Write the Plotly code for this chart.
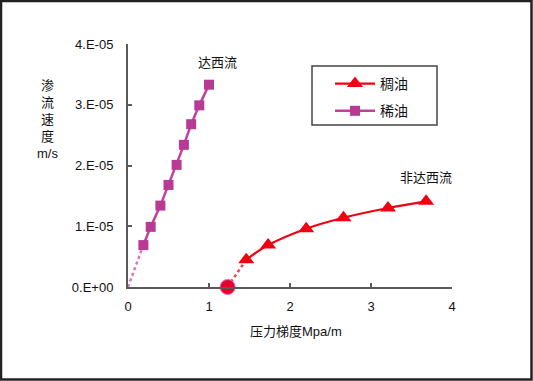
import plotly.graph_objects as go

# Data (x: MPa/m, y: m/s)
thin_x = [0.19, 0.28, 0.40, 0.50, 0.60, 0.69, 0.78, 0.88, 1.00]
thin_y = [0.69e-5, 0.99e-5, 1.34e-5, 1.68e-5, 2.01e-5, 2.34e-5, 2.68e-5, 2.99e-5, 3.33e-5]
heavy_x = [1.46, 1.73, 2.20, 2.66, 3.21, 3.68]
heavy_y = [0.45e-5, 0.69e-5, 0.96e-5, 1.14e-5, 1.30e-5, 1.41e-5]
thin_origin_x = [0.0]
thin_origin_y = [0.0]
threshold_x = [1.23]
threshold_y = [0.0]
x_ticks = [0, 1, 2, 3, 4]
y_ticks = [0, 1e-5, 2e-5, 3e-5, 4e-5]
y_tick_labels = ["0.E+00", "1.E-05", "2.E-05", "3.E-05", "4.E-05"]

FONT = "Liberation Sans, Arial, Noto Sans CJK SC, sans-serif"
PURPLE = "#C0409C"
RED = "#F00010"
AX = "#5a5a5a"

W, H = 533, 381
L, R, T, B = 128, 81, 44, 94
pw, ph = W - L - R, H - T - B


def px(xp):
    return (xp - L) / pw


def py(yp):
    return (H - B - yp) / ph


fig = go.Figure()

# dotted extrapolations
fig.add_trace(go.Scatter(x=thin_origin_x + thin_x[:1], y=thin_origin_y + thin_y[:1],
                         mode="lines", line=dict(color="#E070C0", width=2.5, dash="dot"),
                         showlegend=False, hoverinfo="skip", cliponaxis=False))
fig.add_trace(go.Scatter(x=threshold_x + heavy_x[:1], y=threshold_y + heavy_y[:1],
                         mode="lines", line=dict(color="#F04050", width=2.5, dash="dot"),
                         showlegend=False, hoverinfo="skip", cliponaxis=False))

fig.add_trace(go.Scatter(x=heavy_x, y=heavy_y, name="稠油", mode="lines+markers",
                         line=dict(color=RED, width=2.2, shape="spline"),
                         marker=dict(symbol="triangle-up", size=14, color=RED),
                         cliponaxis=False, legendgroup="a"))
fig.add_trace(go.Scatter(x=thin_x, y=thin_y, name="稀油", mode="lines+markers",
                         line=dict(color=PURPLE, width=2.5),
                         marker=dict(symbol="square", size=10, color="#B83A94"),
                         cliponaxis=False, legendgroup="b"))
fig.add_trace(go.Scatter(x=threshold_x, y=threshold_y, mode="markers",
                         marker=dict(symbol="circle", size=15, color="#E8002A",
                                     line=dict(color="#F060C0", width=1)),
                         showlegend=False, cliponaxis=False))

annotations = [
    dict(x=1.11, y=3.70e-5, xref="x", yref="y", text="达西流", showarrow=False,
         xanchor="center", yanchor="middle", font=dict(size=13, color="#111")),
    dict(x=3.68, y=1.80e-5, xref="x", yref="y", text="非达西流", showarrow=False,
         xanchor="center", yanchor="middle", font=dict(size=13, color="#111")),
    dict(x=px(296), y=py(331), xref="paper", yref="paper",
         text="压力梯度Mpa/m", showarrow=False, xanchor="center", yanchor="middle",
         font=dict(size=13, color="#111")),
    dict(x=px(47), y=py(119), xref="paper", yref="paper",
         text="渗<br>流<br>速<br>度<br>m/s", showarrow=False, align="center",
         xanchor="center", yanchor="middle", font=dict(size=13, color="#111")),
]

shapes = [
    # outer frame
    dict(type="rect", xref="paper", yref="paper",
         x0=px(1.0), x1=px(W - 1.5), y0=py(H - 1.5), y1=py(1.0),
         line=dict(color="#222", width=2.5)),
    # legend box
    dict(type="rect", xref="paper", yref="paper",
         x0=px(312), x1=px(437), y0=py(125), y1=py(66),
         line=dict(color="#444", width=1.5), layer="above"),
]

fig.update_layout(
    width=W, height=H,
    margin=dict(l=L, r=R, t=T, b=B),
    paper_bgcolor="white", plot_bgcolor="white",
    font=dict(family=FONT, size=13, color="#111"),
    annotations=annotations,
    shapes=shapes,
    showlegend=True,
    legend=dict(x=px(330), y=py(68), xanchor="left", yanchor="top",
                borderwidth=0, bgcolor="rgba(0,0,0,0)",
                font=dict(size=14, color="#111"), tracegroupgap=6,
                itemwidth=40),
)
fig.update_xaxes(range=[0, 4], tickvals=x_ticks, ticktext=[str(v) for v in x_ticks],
                 showgrid=False, zeroline=False, showline=True, linecolor=AX, linewidth=2,
                 ticks="inside", ticklen=4, tickcolor=AX, tickwidth=1.5,
                 ticklabelstandoff=6, tickfont=dict(size=13, color="#111"))
fig.update_yaxes(range=[0, 4e-5], tickvals=y_ticks, ticktext=y_tick_labels,
                 showgrid=False, zeroline=False, showline=True, linecolor=AX, linewidth=2,
                 ticks="inside", ticklen=4, tickcolor=AX, tickwidth=1.5,
                 ticklabelstandoff=10, tickfont=dict(size=13, color="#111"))

fig.write_html("out.html", config={"displayModeBar": False},
               post_script="document.body.style.margin='0';")
